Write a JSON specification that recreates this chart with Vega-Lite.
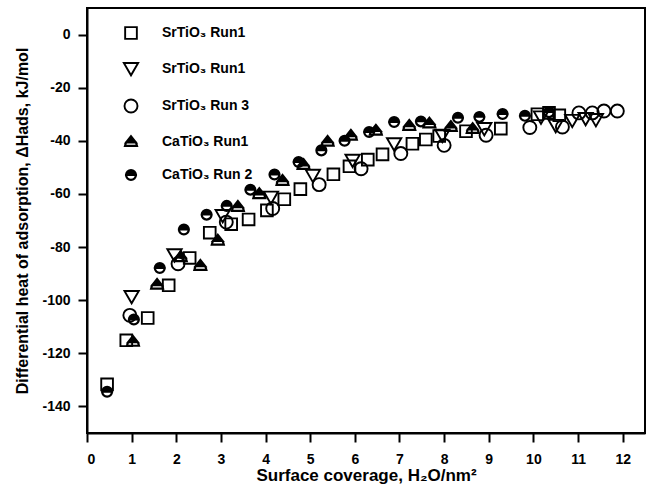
{
  "$schema": "https://vega.github.io/schema/vega-lite/v6.json",
  "width": 558,
  "height": 425,
  "autosize": {"type": "none"},
  "padding": {"left": 87, "top": 8, "right": 14, "bottom": 52},
  "background": "white",
  "config": {
    "view": {"stroke": "black", "strokeWidth": 2},
    "font": "Liberation Sans",
    "axis": {
      "domainColor": "black", "domainWidth": 2, "tickColor": "black", "tickWidth": 2, "tickSize": 9,
      "grid": false, "labelFont": "Liberation Sans", "labelFontWeight": "bold", "labelFontSize": 14,
      "labelColor": "black", "titleFont": "Liberation Sans", "titleFontWeight": "bold", "titleColor": "black"
    },
    "legend": {
      "orient": "none", "legendX": 36.5, "legendY": 17.5, "padding": 0, "rowPadding": 15.5,
      "symbolSize": 169, "symbolStrokeWidth": 1.9,
      "labelFont": "Liberation Sans", "labelFontWeight": "bold", "labelFontSize": 14, "labelColor": "black",
      "labelOffset": 23.5
    }
  },
  "data": {"values": [
    {"s":"A","x":0.45,"y":-131.7},{"s":"A","x":0.88,"y":-115.1},{"s":"A","x":1.36,"y":-106.7},{"s":"A","x":1.83,"y":-94.4},
    {"s":"A","x":2.3,"y":-84.1},{"s":"A","x":2.75,"y":-74.6},{"s":"A","x":3.23,"y":-71.4},{"s":"A","x":3.62,"y":-69.6},
    {"s":"A","x":4.03,"y":-66.2},{"s":"A","x":4.42,"y":-62.0},{"s":"A","x":4.78,"y":-58.2},{"s":"A","x":5.52,"y":-52.6},
    {"s":"A","x":5.88,"y":-49.6},{"s":"A","x":6.29,"y":-47.1},{"s":"A","x":6.62,"y":-45.1},{"s":"A","x":7.29,"y":-41.1},
    {"s":"A","x":7.59,"y":-39.5},{"s":"A","x":7.89,"y":-38.2},{"s":"A","x":8.49,"y":-36.4},{"s":"A","x":9.27,"y":-35.4},
    {"s":"A","x":10.09,"y":-30.0},{"s":"A","x":10.35,"y":-29.5},{"s":"A","x":10.58,"y":-30.4},
    {"s":"B","x":1.0,"y":-98.6},{"s":"B","x":1.96,"y":-82.9},{"s":"B","x":3.04,"y":-68.1},{"s":"B","x":4.12,"y":-61.2},
    {"s":"B","x":5.06,"y":-53.0},{"s":"B","x":5.95,"y":-47.3},{"s":"B","x":6.88,"y":-41.1},{"s":"B","x":7.96,"y":-37.9},
    {"s":"B","x":8.9,"y":-35.4},{"s":"B","x":10.17,"y":-31.0},{"s":"B","x":10.5,"y":-34.2},{"s":"B","x":10.87,"y":-32.3},
    {"s":"B","x":11.17,"y":-31.6},{"s":"B","x":11.4,"y":-32.0},
    {"s":"C","x":0.96,"y":-105.7},{"s":"C","x":2.04,"y":-86.3},{"s":"C","x":3.12,"y":-70.6},{"s":"C","x":4.16,"y":-65.5},
    {"s":"C","x":5.2,"y":-56.5},{"s":"C","x":6.14,"y":-50.5},{"s":"C","x":7.03,"y":-44.8},{"s":"C","x":8.0,"y":-41.7},
    {"s":"C","x":8.94,"y":-37.9},{"s":"C","x":9.92,"y":-35.0},{"s":"C","x":10.65,"y":-34.8},{"s":"C","x":11.02,"y":-29.5},
    {"s":"C","x":11.32,"y":-29.5},{"s":"C","x":11.58,"y":-28.8},{"s":"C","x":11.88,"y":-28.8},
    {"s":"D","x":1.03,"y":-115.5},{"s":"D","x":1.57,"y":-94.0},{"s":"D","x":2.1,"y":-83.6},{"s":"D","x":2.54,"y":-86.9},
    {"s":"D","x":2.93,"y":-77.4},{"s":"D","x":3.38,"y":-64.7},{"s":"D","x":3.86,"y":-59.9},{"s":"D","x":4.38,"y":-54.9},
    {"s":"D","x":4.85,"y":-48.9},{"s":"D","x":5.39,"y":-40.2},{"s":"D","x":5.91,"y":-37.9},{"s":"D","x":6.47,"y":-36.0},
    {"s":"D","x":7.22,"y":-34.2},{"s":"D","x":7.67,"y":-33.3},{"s":"D","x":8.15,"y":-34.6},{"s":"D","x":8.64,"y":-35.4},
    {"s":"E","x":0.45,"y":-134.5},{"s":"E","x":1.05,"y":-107.3},{"s":"E","x":1.63,"y":-87.9},{"s":"E","x":2.17,"y":-73.4},
    {"s":"E","x":2.68,"y":-67.8},{"s":"E","x":3.13,"y":-64.5},{"s":"E","x":3.66,"y":-58.4},{"s":"E","x":4.2,"y":-52.7},
    {"s":"E","x":4.74,"y":-48.0},{"s":"E","x":5.25,"y":-43.6},{"s":"E","x":5.77,"y":-40.0},{"s":"E","x":6.32,"y":-36.7},
    {"s":"E","x":6.88,"y":-32.9},{"s":"E","x":7.48,"y":-32.7},{"s":"E","x":8.31,"y":-31.3},{"s":"E","x":8.79,"y":-31.0},
    {"s":"E","x":9.31,"y":-29.9},{"s":"E","x":9.81,"y":-30.6},{"s":"E","x":10.35,"y":-29.2}
  ]},
  "mark": {"type": "point", "filled": true, "strokeWidth": 1.9, "size": 169, "opacity": 1},
  "encoding": {
    "x": {
      "field": "x", "type": "quantitative",
      "scale": {"domain": [0, 12.5], "nice": false, "zero": false},
      "axis": {"values": [0,1,2,3,4,5,6,7,8,9,10,11,12], "labelPadding": 10, "titlePadding": 1, "titleFontSize": 17,
               "title": "Surface coverage, H₂O/nm²"}
    },
    "y": {
      "field": "y", "type": "quantitative",
      "scale": {"domain": [-150, 10], "nice": false, "zero": false},
      "axis": {"values": [-140,-120,-100,-80,-60,-40,-20,0], "labelPadding": 8, "titlePadding": 11, "titleFontSize": 16,
               "labelExpr": "toString(datum.value)",
               "title": "Differential heat of adsorption, ΔHads, kJ/mol"}
    },
    "shape": {
      "field": "s", "type": "nominal",
      "scale": {"domain": ["A","B","C","D","E"], "range": [
        "M-0.9,-0.9L0.9,-0.9L0.9,0.9L-0.9,0.9Z",
        "M-1.1,-0.85L1.1,-0.85L0,1.05Z",
        "circle",
        "M0,-0.85L0.787,0.15L-0.787,0.15Z M-0.787,0.15L-0.95,0.7L0.95,0.7L0.787,0.15L0.74,0.15L0.9,0.65L-0.9,0.65L-0.74,0.15Z",
        "M-0.78,0 A0.78,0.78 0 0 1 0.78,0 Z M0.78,0 A0.78,0.78 0 0 1 -0.78,0 L-0.73,0 A0.73,0.73 0 0 0 0.73,0 Z"
      ]},
      "legend": {
        "title": null,
        "labelExpr": "{'A':'SrTiO₃ Run1','B':'SrTiO₃ Run1','C':'SrTiO₃ Run 3','D':'CaTiO₃ Run1','E':'CaTiO₃ Run 2'}[datum.label]"
      }
    },
    "fill": {
      "field": "s", "type": "nominal",
      "scale": {"domain": ["A","B","C","D","E"], "range": ["transparent","transparent","transparent","black","black"]},
      "legend": {
        "title": null,
        "labelExpr": "{'A':'SrTiO₃ Run1','B':'SrTiO₃ Run1','C':'SrTiO₃ Run 3','D':'CaTiO₃ Run1','E':'CaTiO₃ Run 2'}[datum.label]"
      }
    },
    "stroke": {
      "field": "s", "type": "nominal",
      "scale": {"domain": ["A","B","C","D","E"], "range": ["black","black","black","black","black"]},
      "legend": {
        "title": null,
        "labelExpr": "{'A':'SrTiO₃ Run1','B':'SrTiO₃ Run1','C':'SrTiO₃ Run 3','D':'CaTiO₃ Run1','E':'CaTiO₃ Run 2'}[datum.label]"
      }
    }
  }
}
